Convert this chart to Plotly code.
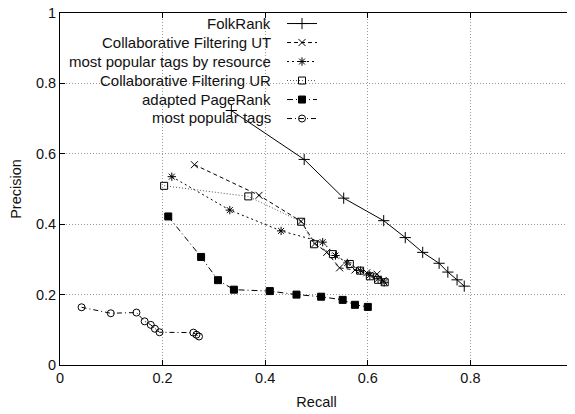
import plotly.graph_objects as go

# ---- data ----
series_names = [
    "FolkRank",
    "Collaborative Filtering UT",
    "most popular tags by resource",
    "Collaborative Filtering UR",
    "adapted PageRank",
    "most popular tags",
]

folkrank_recall = [0.334, 0.476, 0.553, 0.631, 0.673, 0.707, 0.739, 0.756, 0.774, 0.788]
folkrank_precision = [0.723, 0.584, 0.474, 0.410, 0.362, 0.320, 0.289, 0.264, 0.242, 0.224]

cf_ut_recall = [0.262, 0.388, 0.470, 0.497, 0.520, 0.545, 0.575, 0.598, 0.618, 0.630]
cf_ut_precision = [0.569, 0.482, 0.408, 0.345, 0.320, 0.276, 0.270, 0.262, 0.258, 0.240]

mpt_res_recall = [0.218, 0.331, 0.431, 0.512, 0.537, 0.560, 0.586, 0.604, 0.620, 0.632]
mpt_res_precision = [0.535, 0.440, 0.381, 0.349, 0.311, 0.290, 0.268, 0.255, 0.245, 0.235]

cf_ur_recall = [0.203, 0.367, 0.470, 0.495, 0.532, 0.565, 0.585, 0.604, 0.620, 0.633]
cf_ur_precision = [0.509, 0.479, 0.407, 0.343, 0.315, 0.287, 0.268, 0.252, 0.242, 0.235]

pagerank_recall = [0.211, 0.275, 0.308, 0.339, 0.409, 0.461, 0.509, 0.551, 0.575, 0.600]
pagerank_precision = [0.422, 0.307, 0.241, 0.214, 0.210, 0.200, 0.194, 0.185, 0.171, 0.165]

mpt_recall = [0.042, 0.099, 0.149, 0.165, 0.177, 0.185, 0.194, 0.260, 0.266, 0.271]
mpt_precision = [0.164, 0.147, 0.149, 0.124, 0.114, 0.103, 0.093, 0.092, 0.086, 0.081]

axis_ticks = [0, 0.2, 0.4, 0.6, 0.8, 1]
axis_ticktext = ["0", "0.2", "0.4", "0.6", "0.8", "1"]

# ---- styles ----
styles = [
    dict(dash="solid", color="#000", symbol="cross-thin", size=8),
    dict(dash="4px,3px", color="#000", symbol="x-thin", size=7),
    dict(dash="2px,3px", color="#000", symbol="asterisk", size=7),
    dict(dash="1px,2px", color="#555", symbol="square-open", size=7),
    dict(dash="6px,3px,1px,3px", color="#000", symbol="square", size=7),
    dict(dash="5px,3px,1px,3px", color="#000", symbol="circle-open", size=7),
]

data = [
    (folkrank_recall, folkrank_precision),
    (cf_ut_recall, cf_ut_precision),
    (mpt_res_recall, mpt_res_precision),
    (cf_ur_recall, cf_ur_precision),
    (pagerank_recall, pagerank_precision),
    (mpt_recall, mpt_precision),
]

FONT = "Liberation Sans, Arial, sans-serif"

fig = go.Figure()
for name, (xs, ys), st in zip(series_names, data, styles):
    fig.add_trace(go.Scatter(
        x=xs, y=ys, mode="lines+markers", name="",
        line=dict(color=st["color"], width=1, dash=st["dash"]),
        marker=dict(symbol=st["symbol"], size=st["size"], color="#000",
                    line=dict(color="#000", width=1)),
        showlegend=True,
    ))

# figure geometry in pixels (page has an 8px body offset)
W, H = 575, 406
ml, mr, mt, mb = 52, 10, 1, 49
pw = W - ml - mr
ph = H - mt - mb

legend_top_px = -3
row_h = 19
first_center_px = 12

annotations = []
for i, name in enumerate(series_names):
    cy = first_center_px + row_h * i
    annotations.append(dict(
        text=name, xref="paper", yref="paper",
        x=(265 - ml) / pw, y=(H - mb - cy) / ph,
        xanchor="right", yanchor="middle", showarrow=False,
        font=dict(family=FONT, size=15, color="#111"),
    ))

axis_common = dict(
    range=[0, 1], tickmode="array", tickvals=axis_ticks, ticktext=axis_ticktext,
    showgrid=True, gridcolor="#999", griddash="1px,2px", gridwidth=1,
    zeroline=False, showline=True, linecolor="#000", linewidth=1, mirror="ticks",
    ticks="inside", ticklen=5, tickcolor="#000", ticklabeloverflow="allow",
    automargin=False,
    tickfont=dict(family=FONT, size=14.5, color="#111"),
)

fig.update_layout(
    width=W, height=H,
    margin=dict(l=ml, r=mr, t=mt, b=mb),
    paper_bgcolor="white", plot_bgcolor="white",
    font=dict(family=FONT, size=14.5, color="#111"),
    xaxis=dict(axis_common, title=dict(text="Recall", standoff=11,
                                        font=dict(family=FONT, size=14.5, color="#111"))),
    yaxis=dict(axis_common, title=dict(text="Precision", standoff=19,
                                        font=dict(family=FONT, size=14.5, color="#111"))),
    legend=dict(x=(274 - ml) / pw, xanchor="left",
                y=(H - mb - legend_top_px) / ph, yanchor="top",
                bgcolor="rgba(0,0,0,0)", borderwidth=0,
                font=dict(size=10), itemwidth=30, tracegroupgap=0),
    annotations=annotations,
)

fig.write_html("out.html")
